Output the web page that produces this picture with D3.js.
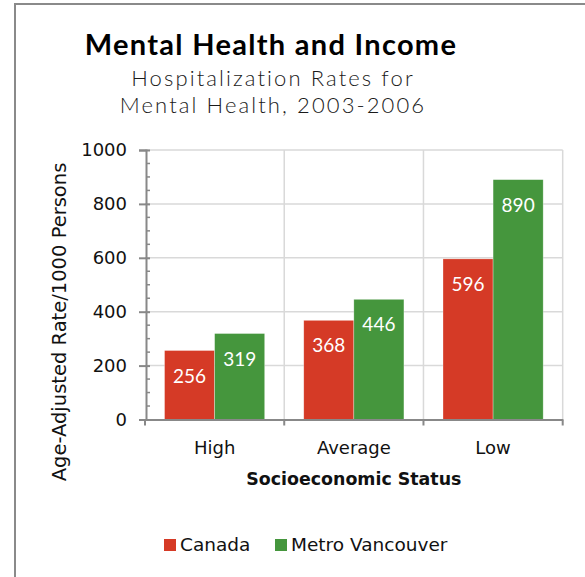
<!DOCTYPE html>
<html>
<head>
<meta charset="utf-8">
<script src="https://cdn.jsdelivr.net/npm/d3@7"></script>
<style>
  body { margin: 0; background: #fff; }
  svg { display: block; }
</style>
</head>
<body>
<svg id="chart"></svg>
<script>
// Data
const categories = ["High", "Average", "Low"];
const seriesNames = ["Canada", "Metro Vancouver"];
const canadaValues = [256, 368, 596];
const vancouverValues = [319, 446, 890];
const yTicks = [0, 200, 400, 600, 800, 1000];
const seriesColors = ["#d53a26", "#45963d"];

const width = 585;
const height = 577;
const margin = { top: 150, right: 22.3, bottom: 157.5, left: 145 };

const svg = d3.select("#chart")
  .attr("width", width)
  .attr("height", height);

// Outer frame (left and top edges visible)
svg.append("path")
  .attr("d", `M15,${height} L15,4 L${width},4`)
  .attr("fill", "none")
  .attr("stroke", "#8a8a8a")
  .attr("stroke-width", 2);

// Build rows
const rows = categories.map((c, i) => ({
  category: c,
  values: [canadaValues[i], vancouverValues[i]]
}));

// Scales
const x = d3.scaleBand()
  .domain(categories)
  .range([margin.left, width - margin.right])
  .padding(0);

const xInner = d3.scaleBand()
  .domain(seriesNames)
  .range([0, x.bandwidth()])
  .paddingInner(0)
  .paddingOuter(0.39);

const y = d3.scaleLinear()
  .domain([0, 1000])
  .range([height - margin.bottom, margin.top]);

const color = d3.scaleOrdinal().domain(seriesNames).range(seriesColors);

// Horizontal gridlines
svg.append("g")
  .selectAll("line")
  .data(yTicks.filter(d => d > 0))
  .enter()
  .append("line")
  .attr("x1", margin.left)
  .attr("x2", width - margin.right)
  .attr("y1", d => y(d))
  .attr("y2", d => y(d))
  .attr("stroke", "#d9d9d9")
  .attr("stroke-width", 1.5);

// Vertical gridlines at category boundaries
svg.append("g")
  .selectAll("line")
  .data(categories)
  .enter()
  .append("line")
  .attr("x1", d => x(d) + x.bandwidth())
  .attr("x2", d => x(d) + x.bandwidth())
  .attr("y1", y(0))
  .attr("y2", y(1000))
  .attr("stroke", "#d9d9d9")
  .attr("stroke-width", 1.5);

// Bars
const groups = svg.append("g")
  .selectAll("g")
  .data(rows)
  .enter()
  .append("g")
  .attr("transform", d => `translate(${x(d.category)},0)`);

groups.selectAll("rect")
  .data(d => d.values.map((v, i) => ({ name: seriesNames[i], value: v })))
  .enter()
  .append("rect")
  .attr("x", d => xInner(d.name))
  .attr("y", d => y(d.value))
  .attr("width", xInner.bandwidth())
  .attr("height", d => y(0) - y(d.value))
  .attr("fill", d => color(d.name))
  .attr("stroke", "rgba(255,255,255,0.5)")
  .attr("stroke-width", 0.6);

// Data labels
groups.selectAll("text")
  .data(d => d.values.map((v, i) => ({ name: seriesNames[i], value: v })))
  .enter()
  .append("text")
  .attr("x", d => xInner(d.name) + xInner.bandwidth() / 2)
  .attr("y", d => y(d.value) + 32)
  .attr("text-anchor", "middle")
  .attr("fill", "#fff")
  .style("font-family", "Lato, sans-serif")
  .style("font-size", "19px")
  .text(d => d.value);

// Y axis (major ticks)
const yAxis = svg.append("g")
  .attr("transform", `translate(${margin.left + 1},0)`)
  .call(d3.axisLeft(y).tickValues(yTicks).tickFormat(d3.format("d")).tickSize(7).tickPadding(12));

yAxis.select(".domain").attr("stroke", "#888").attr("stroke-width", 2);
yAxis.selectAll(".tick line")
  .attr("x2", -7).attr("x1", 4)
  .attr("stroke", "#888").attr("stroke-width", 2);
yAxis.selectAll(".tick text")
  .attr("fill", "#111")
  .style("font-family", "'DejaVu Sans', Verdana, sans-serif")
  .style("font-size", "18px");

// Minor ticks
svg.append("g")
  .selectAll("line")
  .data(d3.range(0, 1001, 50).filter(d => d % 200 !== 0))
  .enter()
  .append("line")
  .attr("x1", margin.left + 1)
  .attr("x2", margin.left + 5)
  .attr("y1", d => y(d))
  .attr("y2", d => y(d))
  .attr("stroke", "#888")
  .attr("stroke-width", 1.5);

// X axis
const xAxis = svg.append("g")
  .attr("transform", `translate(0,${y(0)})`)
  .call(d3.axisBottom(x).tickSize(0).tickPadding(22));

xAxis.select(".domain").attr("stroke", "#888").attr("stroke-width", 2);
xAxis.selectAll(".tick text")
  .attr("fill", "#111")
  .style("font-family", "'DejaVu Sans', Verdana, sans-serif")
  .style("font-size", "18px");

// Ticks at category boundaries
const boundaries = categories.map(d => x(d)).concat([x(categories[categories.length - 1]) + x.bandwidth()]);
svg.append("g")
  .selectAll("line")
  .data(boundaries)
  .enter()
  .append("line")
  .attr("x1", d => d)
  .attr("x2", d => d)
  .attr("y1", y(0))
  .attr("y2", y(0) + 6)
  .attr("stroke", "#888")
  .attr("stroke-width", 2);

// X axis label
svg.append("text")
  .attr("x", (margin.left + width - margin.right) / 2)
  .attr("y", 485)
  .attr("text-anchor", "middle")
  .attr("fill", "#111")
  .style("font-family", "'DejaVu Sans', Verdana, sans-serif")
  .style("font-weight", "bold")
  .style("font-size", "17.4px")
  .text("Socioeconomic Status");

// Y axis label
svg.append("text")
  .attr("transform", "rotate(-90)")
  .attr("x", -322)
  .attr("y", 65.5)
  .attr("text-anchor", "middle")
  .attr("fill", "#111")
  .style("font-family", "'DejaVu Sans', Verdana, sans-serif")
  .style("font-size", "19.5px")
  .text("Age-Adjusted Rate/1000 Persons");

// Title
svg.append("text")
  .attr("x", 271)
  .attr("y", 55)
  .attr("text-anchor", "middle")
  .attr("fill", "#000")
  .style("font-family", "Lato, sans-serif")
  .style("font-weight", "bold")
  .style("font-size", "29px")
  .style("letter-spacing", "1.3px")
  .text("Mental Health and Income");

// Subtitle lines
const subtitle = ["Hospitalization Rates for", "Mental Health, 2003-2006"];
svg.append("g")
  .selectAll("text")
  .data(subtitle)
  .enter()
  .append("text")
  .attr("x", 273)
  .attr("y", (d, i) => 85.5 + i * 27)
  .attr("text-anchor", "middle")
  .attr("fill", "#1a1a1a")
  .style("font-family", "Lato, sans-serif")
  .style("font-weight", "300")
  .style("font-size", "22px")
  .style("letter-spacing", "2.1px")
  .text(d => d);

// Legend
const legendX = [164, 275];
const legend = svg.append("g")
  .selectAll("g")
  .data(seriesNames)
  .enter()
  .append("g")
  .attr("transform", (d, i) => `translate(${legendX[i]},539)`);

legend.append("rect")
  .attr("width", 12)
  .attr("height", 12)
  .attr("fill", d => color(d));

legend.append("text")
  .attr("x", 16)
  .attr("y", 12)
  .attr("fill", "#111")
  .style("font-family", "'DejaVu Sans', Verdana, sans-serif")
  .style("font-size", "18.5px")
  .text(d => d);
</script>
</body>
</html>
